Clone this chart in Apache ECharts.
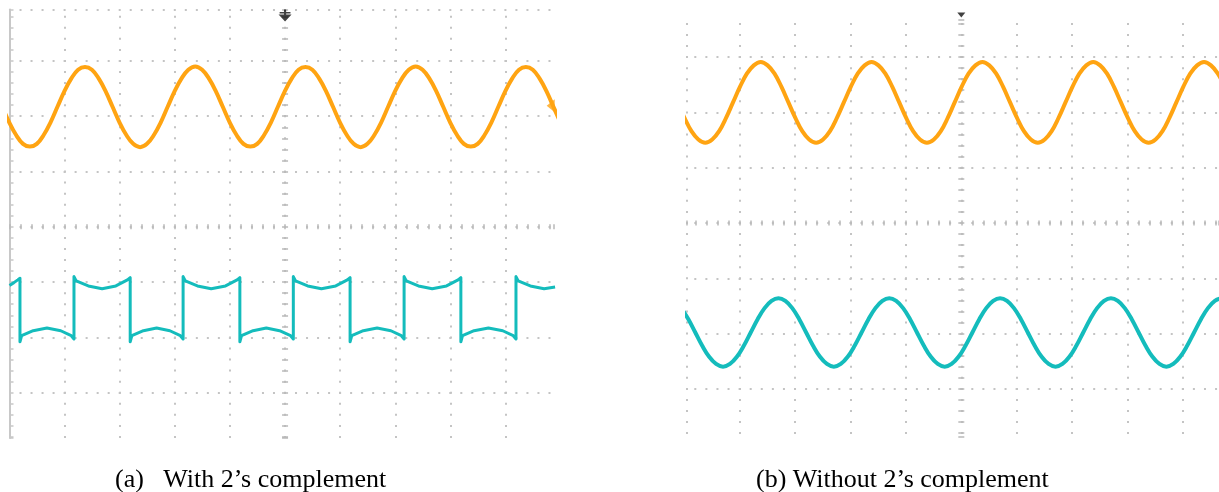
<!DOCTYPE html>
<html><head><meta charset="utf-8">
<script src="https://cdn.jsdelivr.net/npm/echarts@6/dist/echarts.min.js"></script>
<style>html,body{margin:0;padding:0;background:#fff}#c{width:1219px;height:492px}</style>
</head><body><div id="c"></div><script>
// Time and amplitude in screen divisions, measured from the centre of each scope screen.
// (a) With 2's complement
const orangeTimeA = [-5.130,-5.005,-4.880,-4.755,-4.630,-4.505,-4.380,-4.255,-4.130,-4.005,-3.880,-3.755,
  -3.630,-3.505,-3.380,-3.255,-3.130,-3.005,-2.880,-2.755,-2.630,-2.505,-2.380,-2.255,-2.130,-2.005,-1.880,-1.755,
  -1.630,-1.505,-1.380,-1.255,-1.130,-1.005,-0.880,-0.755,-0.630,-0.505,-0.380,-0.255,-0.130,-0.005,0.120,0.245,
  0.370,0.495,0.620,0.745,0.870,0.995,1.120,1.245,1.370,1.495,1.620,1.745,1.870,1.995,2.120,2.245,
  2.370,2.495,2.620,2.745,2.870,2.995,3.120,3.245,3.370,3.495,3.620,3.745,3.870,3.995,4.120,4.245,
  4.370,4.495,4.620,4.745,4.870,4.995];
const orangeValA = [2.17,1.89,1.66,1.50,1.45,1.50,1.66,1.89,2.17,2.45,2.68,2.84,
  2.89,2.84,2.68,2.45,2.17,1.89,1.66,1.50,1.44,1.50,1.66,1.89,2.17,2.45,2.68,2.84,
  2.90,2.84,2.68,2.45,2.17,1.89,1.66,1.50,1.45,1.50,1.66,1.89,2.17,2.45,2.68,2.84,
  2.89,2.84,2.68,2.45,2.17,1.89,1.66,1.50,1.44,1.50,1.66,1.89,2.17,2.45,2.68,2.84,
  2.90,2.84,2.68,2.45,2.17,1.89,1.66,1.50,1.45,1.50,1.66,1.89,2.17,2.45,2.68,2.84,
  2.89,2.84,2.68,2.45,2.17,1.89];
const cyanTimeA = [-5.00,-4.92,-4.85,-4.81,
  -4.81,-4.78,-4.57,-4.32,-4.07,-3.88,-3.83,  -3.83,-3.79,-3.57,-3.32,-3.07,-2.86,-2.81,
  -2.81,-2.78,-2.57,-2.33,-2.09,-1.90,-1.85,  -1.85,-1.81,-1.59,-1.34,-1.08,-0.87,-0.82,
  -0.82,-0.79,-0.58,-0.34,-0.10,0.10,0.15,    0.15,0.19,0.41,0.66,0.92,1.13,1.18,
  1.18,1.21,1.42,1.67,1.92,2.11,2.16,         2.16,2.20,2.42,2.67,2.93,3.14,3.19,
  3.19,3.22,3.43,3.69,3.95,4.14,4.19,         4.19,4.23,4.45,4.70,4.90];
const cyanValA = [-1.06,-1.01,-0.96,-0.93,
  -2.08,-1.97,-1.88,-1.83,-1.88,-1.97,-2.03,  -0.90,-0.98,-1.07,-1.12,-1.07,-0.96,-0.92,
  -2.08,-1.97,-1.88,-1.83,-1.88,-1.97,-2.03,  -0.90,-0.98,-1.07,-1.12,-1.07,-0.96,-0.92,
  -2.08,-1.97,-1.88,-1.83,-1.88,-1.97,-2.03,  -0.90,-0.98,-1.07,-1.12,-1.07,-0.96,-0.92,
  -2.08,-1.97,-1.88,-1.83,-1.88,-1.97,-2.03,  -0.90,-0.98,-1.07,-1.12,-1.07,-0.96,-0.92,
  -2.08,-1.97,-1.88,-1.83,-1.88,-1.97,-2.03,  -0.90,-0.98,-1.07,-1.12,-1.09];
// (b) Without 2's complement
const orangeTimeB = [-5.120,-4.995,-4.870,-4.745,-4.620,-4.495,-4.370,-4.245,-4.120,-3.995,-3.870,-3.745,
  -3.620,-3.495,-3.370,-3.245,-3.120,-2.995,-2.870,-2.745,-2.620,-2.495,-2.370,-2.245,-2.120,-1.995,-1.870,-1.745,
  -1.620,-1.495,-1.370,-1.245,-1.120,-0.995,-0.870,-0.745,-0.620,-0.495,-0.370,-0.245,-0.120,0.005,0.130,0.255,
  0.380,0.505,0.630,0.755,0.880,1.005,1.130,1.255,1.380,1.505,1.630,1.755,1.880,2.005,2.130,2.255,
  2.380,2.505,2.630,2.755,2.880,3.005,3.130,3.255,3.380,3.505,3.630,3.755,3.880,4.005,4.130,4.255,
  4.380,4.505,4.630,4.755];
const orangeValB = [2.18,1.90,1.66,1.51,1.45,1.51,1.66,1.90,2.18,2.46,2.70,2.85,
  2.91,2.85,2.70,2.46,2.18,1.90,1.66,1.51,1.45,1.51,1.66,1.90,2.18,2.46,2.70,2.85,
  2.91,2.85,2.70,2.46,2.18,1.90,1.66,1.51,1.45,1.51,1.66,1.90,2.18,2.46,2.70,2.85,
  2.91,2.85,2.70,2.46,2.18,1.90,1.66,1.51,1.45,1.51,1.66,1.90,2.18,2.46,2.70,2.85,
  2.91,2.85,2.70,2.46,2.18,1.90,1.66,1.51,1.45,1.51,1.66,1.90,2.18,2.46,2.70,2.85,
  2.91,2.85,2.70,2.46];
const cyanTimeB = [-5.050,-4.925,-4.800,-4.675,-4.550,-4.425,-4.300,-4.175,-4.050,-3.925,-3.800,-3.675,-3.550,-3.425,
  -3.300,-3.175,-3.050,-2.925,-2.800,-2.675,-2.550,-2.425,-2.300,-2.175,-2.050,-1.925,-1.800,-1.675,-1.550,-1.425,
  -1.300,-1.175,-1.050,-0.925,-0.800,-0.675,-0.550,-0.425,-0.300,-0.175,-0.050,0.075,0.200,0.325,0.450,0.575,
  0.700,0.825,0.950,1.075,1.200,1.325,1.450,1.575,1.700,1.825,1.950,2.075,2.200,2.325,2.450,2.575,
  2.700,2.825,2.950,3.075,3.200,3.325,3.450,3.575,3.700,3.825,3.950,4.075,4.200,4.325,4.450,4.575,
  4.700];
const cyanValB = [-1.54,-1.74,-1.98,-2.22,-2.42,-2.55,-2.60,-2.55,-2.42,-2.22,-1.98,-1.74,-1.54,-1.41,
  -1.36,-1.41,-1.54,-1.74,-1.98,-2.22,-2.42,-2.55,-2.60,-2.55,-2.42,-2.22,-1.98,-1.74,-1.54,-1.41,
  -1.36,-1.41,-1.54,-1.74,-1.98,-2.22,-2.42,-2.55,-2.60,-2.55,-2.42,-2.22,-1.98,-1.74,-1.54,-1.41,
  -1.36,-1.41,-1.54,-1.74,-1.98,-2.22,-2.42,-2.55,-2.60,-2.55,-2.42,-2.22,-1.98,-1.74,-1.54,-1.41,
  -1.36,-1.41,-1.54,-1.74,-1.98,-2.22,-2.42,-2.55,-2.60,-2.55,-2.42,-2.22,-1.98,-1.74,-1.54,-1.41,
  -1.36];
// screen markers
const triggerA = [0, 3.82];
const triggerB = [0, 3.76];
const levelMarkA = [4.82, 2.19];
const captions = ['(a)   With 2\u2019s complement', '(b) Without 2\u2019s complement'];
// visible screen extents (divisions)
const xRangeA = [-5, 4.88], yRangeA = [-3.82, 3.93];
const xRangeB = [-4.95, 4.65], yRangeB = [-3.87, 3.67];

const zip = (xs, ys) => xs.map((x, i) => [x, ys[i]]);
const GRIDC = '#c4c4c4', TICKC = '#b9b9b9';
const ORANGE = '#ffa412', CYAN = '#14bcbc';

function mainAxis(grid, r, showMin, showMax, period, offset, n) {
  return {type: 'value', gridIndex: grid, min: r[0], max: r[1], minInterval: 1, maxInterval: 1, splitNumber: n,
    axisLine: {show: false, onZero: false}, axisTick: {show: false}, axisLabel: {show: false},
    splitLine: {show: true, showMinLine: showMin, showMaxLine: showMax,
      lineStyle: {color: GRIDC, width: 2, type: [2, period - 2], dashOffset: offset}}};
}
function tickAxis(grid, r, pos, zeroIdx, inside, len, n) {
  return {type: 'value', gridIndex: grid, min: r[0], max: r[1], minInterval: 1, maxInterval: 1, splitNumber: n, position: pos,
    axisLine: {show: false, onZero: true, onZeroAxisIndex: zeroIdx},
    axisTick: {show: true, inside: inside, length: len, lineStyle: {color: TICKC, width: 1.5}},
    minorTick: {show: true, splitNumber: 5, length: len, lineStyle: {color: TICKC, width: 1.5}},
    axisLabel: {show: false}, splitLine: {show: false}};
}

const chart = echarts.init(document.getElementById('c'), null, {renderer: 'canvas'});
chart.setOption({
  animation: false,
  backgroundColor: '#fff',
  title: [
    {text: captions[0], left: 115, top: 467, padding: 0, textStyle: {fontFamily: 'Liberation Serif', fontSize: 26, fontWeight: 'normal', color: '#000'}},
    {text: captions[1], left: 756, top: 467, padding: 0, textStyle: {fontFamily: 'Liberation Serif', fontSize: 26, fontWeight: 'normal', color: '#000'}}
  ],
  grid: [
    {left: 9.5, top: 9.5, width: 544.5, height: 428.5, containLabel: false, outerBoundsMode: 'none'},
    {left: 687, top: 20, width: 532, height: 417, containLabel: false, outerBoundsMode: 'none'}
  ],
  xAxis: [
    mainAxis(0, xRangeA, false, false, 11.06, 4.86, 10),
    tickAxis(0, xRangeA, 'bottom', 0, false, 2.5, 10),
    tickAxis(0, xRangeA, 'bottom', 0, true, 2.5, 10),
    mainAxis(1, xRangeB, true, false, 11.06, 8.16, 10),
    tickAxis(1, xRangeB, 'bottom', 4, false, 2.5, 10),
    tickAxis(1, xRangeB, 'bottom', 4, true, 2.5, 10)
  ],
  yAxis: [
    mainAxis(0, yRangeA, false, true, 11.02, 1, 8),
    tickAxis(0, yRangeA, 'left', 0, false, 3, 8),
    tickAxis(0, yRangeA, 'left', 0, true, 3, 8),
    {type: 'value', gridIndex: 0, min: yRangeA[0], max: yRangeA[1], minInterval: 1, maxInterval: 1, splitNumber: 8, position: 'left',
      axisLine: {show: true, onZero: false, lineStyle: {color: '#c8c8c8', width: 2}},
      axisTick: {show: true, inside: true, length: 4, lineStyle: {color: '#c8c8c8', width: 1.5}},
      minorTick: {show: true, splitNumber: 5, length: 4, lineStyle: {color: '#c8c8c8', width: 1.5}},
      axisLabel: {show: false}, splitLine: {show: false}},
    mainAxis(1, yRangeB, false, false, 11.08, 3.78, 8),
    tickAxis(1, yRangeB, 'left', 3, false, 3, 8),
    tickAxis(1, yRangeB, 'left', 3, true, 3, 8)
  ],
  series: [
    {type: 'line', xAxisIndex: 0, yAxisIndex: 0, data: zip(orangeTimeA, orangeValA), smooth: 0.4, showSymbol: false, silent: true,
      lineStyle: {color: ORANGE, width: 4}, z: 5},
    {type: 'line', xAxisIndex: 0, yAxisIndex: 0, data: zip(cyanTimeA, cyanValA), smooth: false, showSymbol: false, silent: true,
      lineStyle: {color: CYAN, width: 3, join: 'round'}, z: 5},
    {type: 'line', xAxisIndex: 3, yAxisIndex: 4, data: zip(orangeTimeB, orangeValB), smooth: 0.4, showSymbol: false, silent: true,
      lineStyle: {color: ORANGE, width: 4}, z: 5},
    {type: 'line', xAxisIndex: 3, yAxisIndex: 4, data: zip(cyanTimeB, cyanValB), smooth: 0.4, showSymbol: false, silent: true,
      lineStyle: {color: CYAN, width: 4}, z: 5},
    {type: 'scatter', xAxisIndex: 0, yAxisIndex: 0, data: [triggerA], clip: false, silent: true, z: 6,
      symbol: 'path://M6,0L8,0L8,2.5L12,2.5L12,4L8,4L8,5L13,5L7,12L1,5L6,5L6,4L2,4L2,2.5L6,2.5Z', symbolSize: [13, 12],
      itemStyle: {color: '#111'}},
    {type: 'scatter', xAxisIndex: 3, yAxisIndex: 4, data: [triggerB], clip: false, silent: true, z: 6,
      symbol: 'triangle', symbolRotate: 180, symbolSize: [8, 5], itemStyle: {color: '#111'}},
    {type: 'scatter', xAxisIndex: 0, yAxisIndex: 0, data: [levelMarkA], clip: false, silent: true, z: 6,
      symbol: 'triangle', symbolRotate: 90, symbolSize: [13, 8], itemStyle: {color: ORANGE}}
  ]
});
</script></body></html>
